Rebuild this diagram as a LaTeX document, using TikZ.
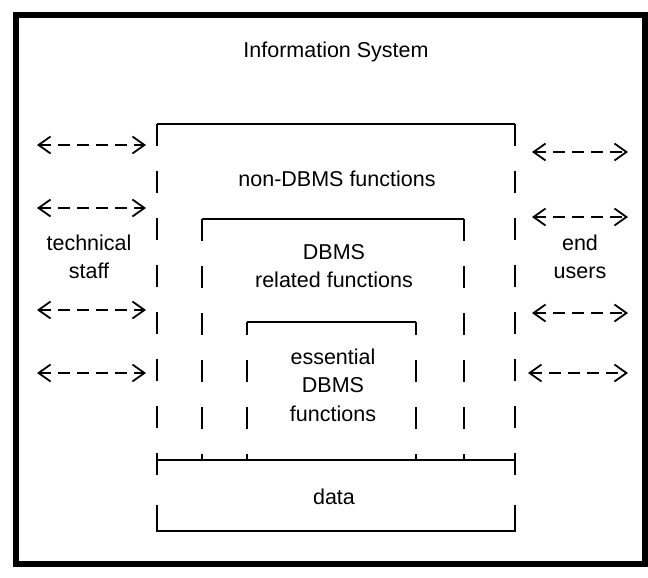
\documentclass[tikz,border=0pt]{standalone}
\usepackage{fontspec}
\setmainfont{Liberation Sans}
\usetikzlibrary{arrows.meta}
\begin{document}
\begin{tikzpicture}[x=1pt,y=-1pt,
  lbl/.style={font=\fontsize{21.5}{28.5}\selectfont, align=center, inner sep=0pt},
  frameline/.style={line width=6pt},
  boxline/.style={line width=2pt},
  dside/.style={line width=2pt, dash pattern=on 22pt off 25pt},
  barb/.style={Straight Barb[length=12pt,width=17pt,line width=1.8pt]},
  dblarrow/.style={line width=1.8pt, dash pattern=on 12pt off 7pt,
    {Straight Barb[length=12pt,width=17pt,line width=1.8pt]}-{Straight Barb[length=12pt,width=17pt,line width=1.8pt]}},
]
\useasboundingbox (0,0) rectangle (648,578);
% outer frame
\draw[frameline] (16,15) rectangle (645,564);

% labels
\node[lbl] (title) at (336,52) {Information System};
\node[lbl] (nondbms) at (337,179) {non-DBMS functions};
\node[lbl] (dbmsrel) at (334,266) {DBMS\\related functions};
\node[lbl] (essential) at (333,385) {essential\\DBMS\\functions};
\node[lbl] (data) at (334,497) {data};
\node[lbl] (tech) at (89,257) {technical\\staff};
\node[lbl] (users) at (580,257) {end\\users};

% outer box (non-DBMS functions)
\coordinate (oTL) at (157,124);
\coordinate (oTR) at (515,124);
\coordinate (oBL) at (157,480);
\coordinate (oBR) at (515,480);
\draw[boxline] (oTL) -- (oTR);
\draw[dside] (oTL) -- (oBL);
\draw[dside] (oTR) -- (oBR);

% middle box (DBMS related functions)
\coordinate (mTL) at (202,219);
\coordinate (mTR) at (464,219);
\coordinate (mBL) at (202,460);
\coordinate (mBR) at (464,460);
\draw[boxline] (mTL) -- (mTR);
\draw[dside] (mTL) -- (mBL);
\draw[dside] (mTR) -- (mBR);

% inner box (essential DBMS functions)
\coordinate (iTL) at (247,322);
\coordinate (iTR) at (416,322);
\coordinate (iBL) at (247,460);
\coordinate (iBR) at (416,460);
\draw[boxline] (iTL) -- (iTR);
\draw[dside, dash phase=9pt] (iTL) -- (iBL);
\draw[dside, dash phase=9pt] (iTR) -- (iBR);

% data box
\coordinate (dTL) at (157,460);
\coordinate (dTR) at (515,460);
\coordinate (dSL) at (157,505);
\coordinate (dSR) at (515,505);
\coordinate (dBL) at (157,531);
\coordinate (dBR) at (515,531);
\draw[boxline] (dTL) -- (dTR);
\draw[boxline] (dSL) -- (dBL) -- (dBR) -- (dSR);

% left arrows (technical staff)
\foreach \i/\y in {1/145,2/208,3/310,4/373}{
  \coordinate (la\i) at (37,\y);
  \coordinate (lb\i) at (146,\y);
  \draw[dblarrow] (la\i) -- (lb\i);
}
% right arrows (end users)
\foreach \i/\y/\x in {1/152/532,2/217/532,3/313/532,4/373/528}{
  \coordinate (ra\i) at (\x,\y);
  \coordinate (rb\i) at (628,\y);
  \draw[dblarrow] (ra\i) -- (rb\i);
}
\end{tikzpicture}
\end{document}
